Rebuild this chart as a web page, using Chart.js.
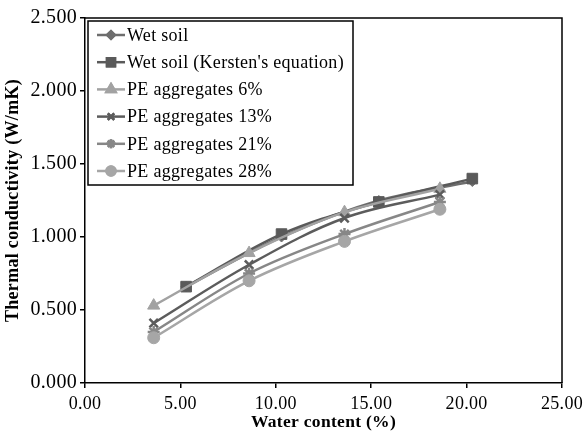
<!DOCTYPE html>
<html>
<head>
<meta charset="utf-8">
<script src="https://cdn.jsdelivr.net/npm/chart.js@4/dist/chart.umd.min.js"></script>
<style>
  html, body { margin: 0; padding: 0; background: #fff; }
  #wrap { width: 588px; height: 439px; }
</style>
</head>
<body>
<div id="wrap"><canvas id="thermal-chart"></canvas></div>
<script>
// values
const seriesNames = [
  "Wet soil",
  "Wet soil (Kersten's equation)",
  "PE aggregates 6%",
  "PE aggregates 13%",
  "PE aggregates 21%",
  "PE aggregates 28%",
];
const soilWater = [5.3, 10.3, 15.4, 20.3];
const peWater = [3.6, 8.6, 13.6, 18.6];
const wetSoil = [0.66, 1.00, 1.25, 1.38];
const kersten = [0.66, 1.02, 1.24, 1.40];
const pe6 = [0.53, 0.89, 1.17, 1.33];
const pe13 = [0.41, 0.81, 1.13, 1.29];
const pe21 = [0.35, 0.75, 1.02, 1.24];
const pe28 = [0.31, 0.70, 0.97, 1.19];
const xTicks = [0, 5, 10, 15, 20, 25];
const yTicks = [0, 0.5, 1, 1.5, 2, 2.5];

const FONT = "'Liberation Serif', 'Times New Roman', serif";

function pts(xs, ys) {
  return xs.map((x, i) => ({ x: x, y: ys[i] }));
}

const styles = [
  { color: "#6e6e6e", point: "rectRot", r: 5 },
  { color: "#5a5a5a", point: "rect", r: 7.5 },
  { color: "#a2a2a2", point: "triangle", r: 7 },
  { color: "#5c5c5c", point: "crossRot", r: 6 },
  { color: "#878787", point: "star", r: 6 },
  { color: "#a6a6a6", point: "circle", r: 6 },
];
const values = [
  pts(soilWater, wetSoil),
  pts(soilWater, kersten),
  pts(peWater, pe6),
  pts(peWater, pe13),
  pts(peWater, pe21),
  pts(peWater, pe28),
];

const datasets = seriesNames.map((name, i) => ({
  label: name,
  data: values[i],
  borderColor: styles[i].color,
  backgroundColor: styles[i].color,
  borderWidth: 2.5,
  pointStyle: styles[i].point,
  pointRadius: styles[i].r,
  pointBorderWidth: styles[i].point === "crossRot" || styles[i].point === "star" ? 2.5 : 1,
  pointHoverRadius: styles[i].r,
  tension: 0.35,
  order: 6 - i,
}));

// the Excel text runs a little wider than Liberation Serif
const spacingPlugin = {
  id: "spacing",
  beforeLayout(chart) { chart.ctx.letterSpacing = "0.3px"; },
  beforeDraw(chart) { chart.ctx.letterSpacing = "0.3px"; },
};

// frame on top/right + boxed legend like the Excel original
const framePlugin = {
  id: "frame",
  afterDraw(chart) {
    const ctx = chart.ctx;
    const a = chart.chartArea;
    ctx.save();
    ctx.strokeStyle = "#000";
    ctx.lineWidth = 1.5;
    ctx.beginPath();
    ctx.moveTo(a.left, a.top);
    ctx.lineTo(a.right, a.top);
    ctx.lineTo(a.right, a.bottom);
    ctx.stroke();

    // legend box
    const bx = 88, by = 21, bw = 265, bh = 164;
    ctx.fillStyle = "#fff";
    ctx.fillRect(bx, by, bw, bh);
    ctx.lineWidth = 1.5;
    ctx.strokeStyle = "#000";
    ctx.strokeRect(bx, by, bw, bh);

    ctx.font = "18px " + FONT;
    ctx.textBaseline = "middle";
    chart.data.datasets.forEach((ds, i) => {
      const y = 35 + i * 27.2;
      ctx.strokeStyle = ds.borderColor;
      ctx.lineWidth = 2.5;
      ctx.beginPath();
      ctx.moveTo(97, y);
      ctx.lineTo(125, y);
      ctx.stroke();
      Chart.helpers.drawPoint(ctx, {
        pointStyle: ds.pointStyle,
        radius: ds.pointRadius * 0.75,
        borderWidth: ds.pointBorderWidth,
        rotation: 0,
      }, 111, y);
      ctx.fillStyle = ds.backgroundColor;
      ctx.strokeStyle = ds.borderColor;
      ctx.fill();
      ctx.stroke();
      ctx.fillStyle = "#000";
      ctx.fillText(ds.label, 127, y + 1);
    });
    ctx.restore();
  },
};

new Chart(document.getElementById("thermal-chart"), {
  type: "line",
  data: { datasets: datasets },
  plugins: [spacingPlugin, framePlugin],
  options: {
    responsive: true,
    maintainAspectRatio: false,
    animation: false,
    layout: { padding: { top: 18, right: 23, bottom: 6, left: 0 } },
    plugins: {
      legend: { display: false },
      tooltip: { enabled: false },
    },
    scales: {
      x: {
        type: "linear",
        min: 0,
        max: 25,
        afterBuildTicks: (s) => { s.ticks = xTicks.map((v) => ({ value: v })); },
        afterFit: (s) => { s.height = 50; },
        border: { display: true, color: "#000", width: 1.5 },
        grid: { drawOnChartArea: false, drawTicks: true, tickLength: 5, color: "#000", lineWidth: 1.5 },
        ticks: {
          color: "#000",
          padding: 5,
          maxRotation: 0,
          font: { family: FONT, size: 18 },
          callback: (v) => Number(v).toFixed(2),
        },
        title: {
          display: true,
          text: "Water content (%)",
          color: "#000",
          font: { family: FONT, size: 17.5, weight: "bold" },
          padding: { top: 0, bottom: 0 },
        },
      },
      y: {
        type: "linear",
        min: 0,
        max: 2.5,
        afterBuildTicks: (s) => { s.ticks = yTicks.map((v) => ({ value: v })); },
        afterFit: (s) => { s.width = 85; },
        border: { display: true, color: "#000", width: 1.5 },
        grid: { drawOnChartArea: false, drawTicks: true, tickLength: 5, color: "#000", lineWidth: 1.5 },
        ticks: {
          color: "#000",
          padding: 3,
          font: { family: FONT, size: 20 },
          callback: (v) => Number(v).toFixed(3),
        },
        title: {
          display: true,
          text: "Thermal conductivity (W/mK)",
          color: "#000",
          font: { family: FONT, size: 18, weight: "bold" },
          padding: { top: 3, bottom: 0 },
        },
      },
    },
  },
});
</script>
</body>
</html>
